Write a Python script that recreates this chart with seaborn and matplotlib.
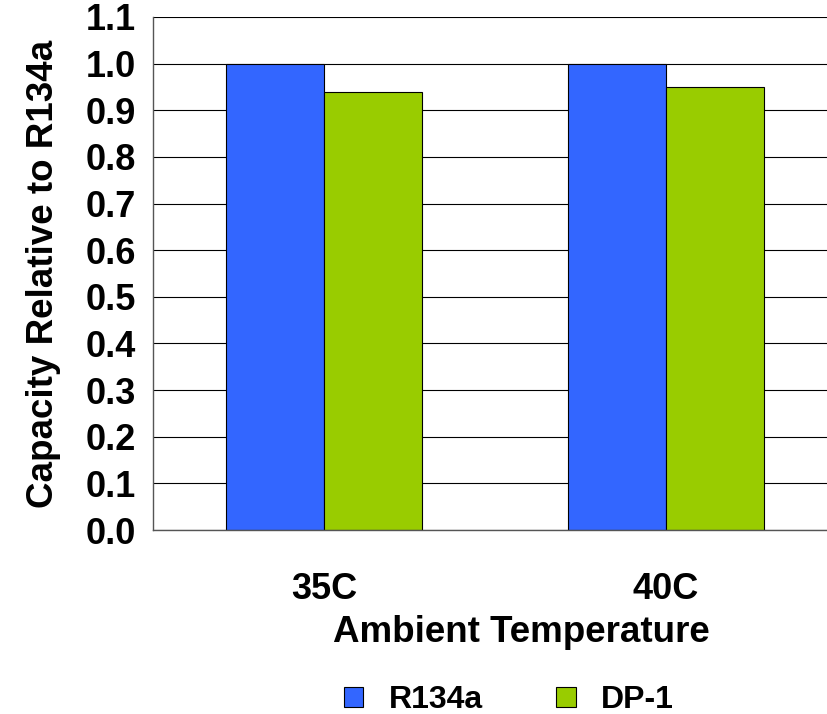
import matplotlib.pyplot as plt
import matplotlib.ticker
import numpy as np
import pandas as pd
import seaborn as sns

temps = ['35C', '40C']
r134a = [1.00, 1.00]
dp1 = [0.94, 0.95]
series = ['R134a', 'DP-1']
colors = ['#3366FF', '#99CC00']

df = pd.DataFrame({
    'temp': temps * 2,
    'value': r134a + dp1,
    'refrigerant': [series[0]] * 2 + [series[1]] * 2,
})

sns.set_theme()
sns.set_style("white")
plt.rcParams['font.family'] = ['Liberation Sans', 'DejaVu Sans']
plt.rcParams['font.weight'] = 'bold'
plt.rcParams['text.color'] = 'black'
plt.rcParams['axes.labelcolor'] = 'black'
plt.rcParams['xtick.color'] = 'black'
plt.rcParams['ytick.color'] = 'black'

fig = plt.figure(figsize=(8.27, 7.14), dpi=100)
ax = fig.add_axes([153 / 827, 1 - 530 / 714, 684 / 827, 513 / 714])

sns.barplot(data=df, x='temp', y='value', hue='refrigerant', palette=colors, saturation=1,
            width=0.573, edgecolor='black', linewidth=0.8, ax=ax, legend=False)

ax.set_xlim(-0.5, 1.5)
ax.set_ylim(0, 1.1)
ax.yaxis.set_major_locator(matplotlib.ticker.MultipleLocator(0.1))
ax.yaxis.set_major_formatter(matplotlib.ticker.FormatStrFormatter('%.1f'))
ax.grid(axis='y', color='black', linewidth=0.8)
ax.set_axisbelow(True)

for s in ['top', 'right']:
    ax.spines[s].set_visible(False)
for s in ['left', 'bottom']:
    ax.spines[s].set_color('#555555')
    ax.spines[s].set_linewidth(1.0)

ax.xaxis.set_minor_locator(matplotlib.ticker.FixedLocator([-0.5, 0.5, 1.5]))
ax.tick_params(axis='x', which='major', length=0, pad=30, labelsize=26, labelcolor='black')
ax.tick_params(axis='x', which='minor', length=7.2, width=1.0, color='#555555', direction='out')
ax.tick_params(axis='y', length=7.2, width=1.0, color='#555555', direction='out', pad=5,
               labelsize=26, labelcolor='black')
for lab in ax.get_xticklabels() + ax.get_yticklabels():
    lab.set_fontweight('bold')

ax.set_xlabel('Ambient Temperature', fontsize=26.5, fontweight='bold', labelpad=6, color='black')
ax.set_ylabel('Capacity Relative to R134a', fontsize=26.5, fontweight='bold', labelpad=18, color='black')
ax.xaxis.label.set_x(0.538)

handles = [plt.Rectangle((0, 0), 1, 1, facecolor=c, edgecolor='black', linewidth=0.8) for c in colors]
fig.legend(handles, series, loc='center', bbox_to_anchor=(509 / 827, 1 - 700 / 714), ncol=2,
           frameon=False, prop={'size': 23, 'weight': 'bold'}, handlelength=0.6, handleheight=0.6,
           handletextpad=0.8, columnspacing=2.3, borderpad=0.1)

fig.savefig('out.png', dpi=100)
